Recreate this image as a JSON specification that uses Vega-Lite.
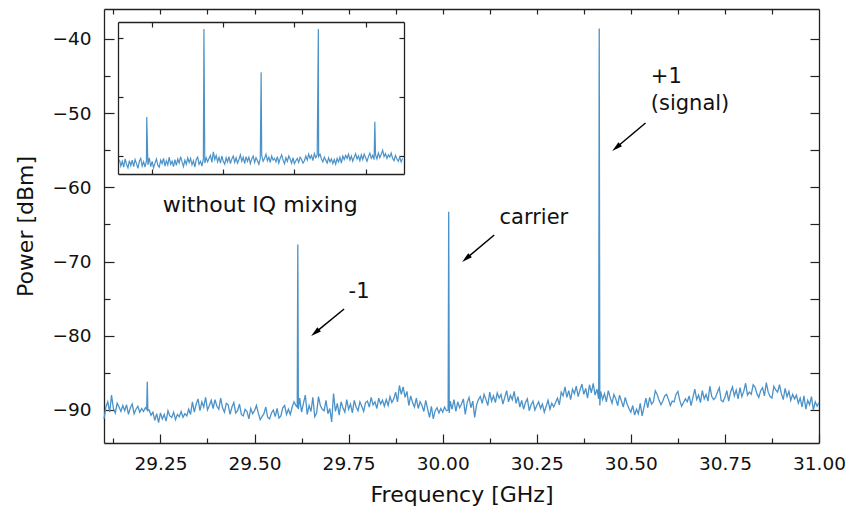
{
"$schema":"https://vega.github.io/schema/vega-lite/v6.json",
"width":715,"height":434,
"autosize":{"type":"none"},
"padding":{"left":104,"top":9,"right":38,"bottom":70},
"config":{"font":"DejaVu Sans","view":{"stroke":null},
 "axis":{"domainColor":"#222","tickColor":"#222","domainWidth":1.3,"tickWidth":1.2,"grid":false,"labelColor":"#111","titleColor":"#111","labelFont":"DejaVu Sans","titleFont":"DejaVu Sans","titleFontWeight":"normal","labelFontSize":18.5,"titleFontSize":22,"labelFlush":false}},
"datasets":{
"main":[
{"f":29.100,"p":-91.2},{"f":29.105,"p":-89.6},{"f":29.110,"p":-88.9},{"f":29.115,"p":-90.3},{"f":29.120,"p":-88.0},{"f":29.125,"p":-89.8},{"f":29.130,"p":-90.4},{"f":29.135,"p":-89.1},{"f":29.140,"p":-89.6},{"f":29.145,"p":-90.2},
{"f":29.150,"p":-89.4},{"f":29.155,"p":-90.1},{"f":29.160,"p":-89.3},{"f":29.165,"p":-90.6},{"f":29.170,"p":-89.7},{"f":29.175,"p":-89.2},{"f":29.180,"p":-90.5},{"f":29.185,"p":-89.9},{"f":29.190,"p":-89.5},{"f":29.195,"p":-90.3},
{"f":29.200,"p":-89.8},{"f":29.205,"p":-90.2},{"f":29.210,"p":-89.7},{"f":29.2135,"p":-89.9},{"f":29.215,"p":-86.2},{"f":29.2165,"p":-90.1},{"f":29.220,"p":-90.0},{"f":29.225,"p":-90.7},{"f":29.230,"p":-90.3},{"f":29.235,"p":-91.4},{"f":29.240,"p":-90.5},{"f":29.245,"p":-91.7},
{"f":29.250,"p":-90.4},{"f":29.255,"p":-91.2},{"f":29.260,"p":-90.6},{"f":29.265,"p":-91.5},{"f":29.270,"p":-90.1},{"f":29.275,"p":-90.8},{"f":29.280,"p":-91.0},{"f":29.285,"p":-90.3},{"f":29.290,"p":-91.3},{"f":29.295,"p":-90.6},
{"f":29.300,"p":-90.9},{"f":29.305,"p":-90.2},{"f":29.310,"p":-91.0},{"f":29.315,"p":-90.5},{"f":29.320,"p":-90.8},{"f":29.325,"p":-89.9},{"f":29.330,"p":-90.6},{"f":29.335,"p":-88.9},{"f":29.340,"p":-90.3},{"f":29.345,"p":-89.2},
{"f":29.350,"p":-88.5},{"f":29.355,"p":-90.1},{"f":29.360,"p":-88.9},{"f":29.365,"p":-89.6},{"f":29.370,"p":-88.3},{"f":29.375,"p":-90.0},{"f":29.380,"p":-89.4},{"f":29.385,"p":-88.7},{"f":29.390,"p":-89.8},{"f":29.395,"p":-88.6},
{"f":29.400,"p":-89.5},{"f":29.405,"p":-89.9},{"f":29.410,"p":-88.4},{"f":29.415,"p":-89.7},{"f":29.420,"p":-90.3},{"f":29.425,"p":-89.1},{"f":29.430,"p":-89.3},{"f":29.435,"p":-90.6},{"f":29.440,"p":-89.6},{"f":29.445,"p":-89.0},
{"f":29.450,"p":-90.4},{"f":29.455,"p":-90.1},{"f":29.460,"p":-89.2},{"f":29.465,"p":-90.6},{"f":29.470,"p":-90.8},{"f":29.475,"p":-89.9},{"f":29.480,"p":-90.2},{"f":29.485,"p":-91.2},{"f":29.490,"p":-89.8},{"f":29.495,"p":-90.5},
{"f":29.500,"p":-90.1},{"f":29.505,"p":-89.4},{"f":29.510,"p":-90.4},{"f":29.515,"p":-91.3},{"f":29.520,"p":-90.9},{"f":29.525,"p":-90.5},{"f":29.530,"p":-89.6},{"f":29.535,"p":-91.0},{"f":29.540,"p":-91.2},{"f":29.545,"p":-90.4},
{"f":29.550,"p":-90.0},{"f":29.555,"p":-90.9},{"f":29.560,"p":-89.8},{"f":29.565,"p":-91.1},{"f":29.570,"p":-90.8},{"f":29.575,"p":-89.7},{"f":29.580,"p":-89.4},{"f":29.585,"p":-90.6},{"f":29.590,"p":-89.9},{"f":29.595,"p":-90.6},
{"f":29.600,"p":-89.6},{"f":29.605,"p":-88.9},{"f":29.610,"p":-89.4},{"f":29.6135,"p":-89.6},{"f":29.615,"p":-67.7},{"f":29.6165,"p":-89.9},{"f":29.620,"p":-88.4},{"f":29.625,"p":-90.3},{"f":29.630,"p":-89.1},{"f":29.635,"p":-88.0},{"f":29.640,"p":-90.6},{"f":29.645,"p":-89.4},
{"f":29.650,"p":-90.2},{"f":29.655,"p":-88.3},{"f":29.660,"p":-90.9},{"f":29.665,"p":-90.4},{"f":29.670,"p":-88.2},{"f":29.675,"p":-89.4},{"f":29.680,"p":-89.9},{"f":29.685,"p":-90.1},{"f":29.690,"p":-88.7},{"f":29.695,"p":-90.5},
{"f":29.700,"p":-89.8},{"f":29.705,"p":-91.6},{"f":29.710,"p":-87.8},{"f":29.715,"p":-90.2},{"f":29.720,"p":-89.1},{"f":29.725,"p":-90.7},{"f":29.730,"p":-88.9},{"f":29.735,"p":-89.7},{"f":29.740,"p":-90.3},{"f":29.745,"p":-88.6},
{"f":29.750,"p":-89.9},{"f":29.755,"p":-89.2},{"f":29.760,"p":-90.4},{"f":29.765,"p":-88.7},{"f":29.770,"p":-89.6},{"f":29.775,"p":-90.1},{"f":29.780,"p":-88.9},{"f":29.785,"p":-89.5},{"f":29.790,"p":-90.2},{"f":29.795,"p":-89.0},
{"f":29.800,"p":-88.8},{"f":29.805,"p":-89.6},{"f":29.810,"p":-88.3},{"f":29.815,"p":-89.3},{"f":29.820,"p":-88.9},{"f":29.825,"p":-89.8},{"f":29.830,"p":-88.4},{"f":29.835,"p":-89.2},{"f":29.840,"p":-88.7},{"f":29.845,"p":-89.5},
{"f":29.850,"p":-88.6},{"f":29.855,"p":-89.4},{"f":29.860,"p":-88.2},{"f":29.865,"p":-89.0},{"f":29.870,"p":-88.5},{"f":29.875,"p":-87.6},{"f":29.880,"p":-88.9},{"f":29.885,"p":-86.7},{"f":29.890,"p":-87.9},{"f":29.895,"p":-86.9},
{"f":29.900,"p":-88.3},{"f":29.905,"p":-87.5},{"f":29.910,"p":-89.4},{"f":29.915,"p":-88.1},{"f":29.920,"p":-89.0},{"f":29.925,"p":-89.6},{"f":29.930,"p":-88.4},{"f":29.935,"p":-89.8},{"f":29.940,"p":-88.9},{"f":29.945,"p":-89.4},
{"f":29.950,"p":-90.2},{"f":29.955,"p":-88.7},{"f":29.960,"p":-89.9},{"f":29.965,"p":-91.0},{"f":29.970,"p":-89.5},{"f":29.975,"p":-91.2},{"f":29.980,"p":-90.1},{"f":29.985,"p":-89.7},{"f":29.990,"p":-90.4},{"f":29.995,"p":-89.8},
{"f":30.000,"p":-90.3},{"f":30.005,"p":-89.6},{"f":30.010,"p":-90.1},{"f":30.0145,"p":-90.0},{"f":30.016,"p":-63.3},{"f":30.0175,"p":-90.4},{"f":30.020,"p":-88.8},{"f":30.025,"p":-89.9},{"f":30.030,"p":-88.6},{"f":30.035,"p":-90.2},{"f":30.040,"p":-88.9},{"f":30.045,"p":-89.7},
{"f":30.050,"p":-89.2},{"f":30.055,"p":-88.5},{"f":30.060,"p":-90.6},{"f":30.065,"p":-89.0},{"f":30.070,"p":-88.3},{"f":30.075,"p":-89.7},{"f":30.080,"p":-88.8},{"f":30.085,"p":-91.0},{"f":30.090,"p":-89.3},{"f":30.095,"p":-88.6},
{"f":30.100,"p":-88.2},{"f":30.105,"p":-89.1},{"f":30.110,"p":-87.9},{"f":30.115,"p":-88.6},{"f":30.120,"p":-89.4},{"f":30.125,"p":-87.6},{"f":30.130,"p":-88.8},{"f":30.135,"p":-88.1},{"f":30.140,"p":-89.0},{"f":30.145,"p":-87.7},
{"f":30.150,"p":-88.4},{"f":30.155,"p":-87.9},{"f":30.160,"p":-89.2},{"f":30.165,"p":-88.3},{"f":30.170,"p":-87.4},{"f":30.175,"p":-88.9},{"f":30.180,"p":-88.0},{"f":30.185,"p":-88.6},{"f":30.190,"p":-87.5},{"f":30.195,"p":-89.1},
{"f":30.200,"p":-88.2},{"f":30.205,"p":-89.6},{"f":30.210,"p":-88.7},{"f":30.215,"p":-89.9},{"f":30.220,"p":-89.0},{"f":30.225,"p":-88.5},{"f":30.230,"p":-90.1},{"f":30.235,"p":-89.3},{"f":30.240,"p":-88.8},{"f":30.245,"p":-90.0},
{"f":30.250,"p":-89.4},{"f":30.255,"p":-88.9},{"f":30.260,"p":-89.8},{"f":30.265,"p":-89.2},{"f":30.270,"p":-90.3},{"f":30.275,"p":-89.5},{"f":30.280,"p":-88.7},{"f":30.285,"p":-89.9},{"f":30.290,"p":-89.1},{"f":30.295,"p":-89.6},
{"f":30.300,"p":-89.0},{"f":30.305,"p":-88.4},{"f":30.310,"p":-89.3},{"f":30.315,"p":-87.6},{"f":30.320,"p":-88.1},{"f":30.325,"p":-86.9},{"f":30.330,"p":-88.3},{"f":30.335,"p":-87.4},{"f":30.340,"p":-88.6},{"f":30.345,"p":-87.2},
{"f":30.350,"p":-87.8},{"f":30.355,"p":-86.8},{"f":30.360,"p":-88.2},{"f":30.365,"p":-87.3},{"f":30.370,"p":-86.5},{"f":30.375,"p":-87.9},{"f":30.380,"p":-87.1},{"f":30.385,"p":-88.4},{"f":30.390,"p":-86.6},{"f":30.395,"p":-87.7},
{"f":30.400,"p":-86.4},{"f":30.405,"p":-88.0},{"f":30.410,"p":-87.2},{"f":30.4145,"p":-88.5},{"f":30.416,"p":-38.6},{"f":30.4175,"p":-89.4},{"f":30.420,"p":-87.5},{"f":30.425,"p":-88.6},{"f":30.430,"p":-87.8},{"f":30.435,"p":-88.9},{"f":30.440,"p":-87.4},{"f":30.445,"p":-88.3},
{"f":30.450,"p":-89.1},{"f":30.455,"p":-87.9},{"f":30.460,"p":-88.5},{"f":30.465,"p":-89.4},{"f":30.470,"p":-88.0},{"f":30.475,"p":-88.8},{"f":30.480,"p":-89.6},{"f":30.485,"p":-88.3},{"f":30.490,"p":-89.2},{"f":30.495,"p":-89.8},
{"f":30.500,"p":-90.3},{"f":30.505,"p":-89.4},{"f":30.510,"p":-90.7},{"f":30.515,"p":-89.9},{"f":30.520,"p":-90.5},{"f":30.525,"p":-89.1},{"f":30.530,"p":-90.8},{"f":30.535,"p":-89.6},{"f":30.540,"p":-88.4},{"f":30.545,"p":-89.7},
{"f":30.550,"p":-88.3},{"f":30.555,"p":-89.2},{"f":30.560,"p":-88.9},{"f":30.565,"p":-87.4},{"f":30.570,"p":-87.9},{"f":30.575,"p":-88.7},{"f":30.580,"p":-89.3},{"f":30.585,"p":-88.8},{"f":30.590,"p":-88.1},{"f":30.595,"p":-87.9},
{"f":30.600,"p":-88.6},{"f":30.605,"p":-89.4},{"f":30.610,"p":-88.8},{"f":30.615,"p":-88.9},{"f":30.620,"p":-87.9},{"f":30.625,"p":-87.5},{"f":30.630,"p":-88.7},{"f":30.635,"p":-89.5},{"f":30.640,"p":-89.0},{"f":30.645,"p":-88.5},
{"f":30.650,"p":-88.9},{"f":30.655,"p":-88.1},{"f":30.660,"p":-89.4},{"f":30.665,"p":-88.3},{"f":30.670,"p":-87.2},{"f":30.675,"p":-88.6},{"f":30.680,"p":-88.0},{"f":30.685,"p":-89.0},{"f":30.690,"p":-87.4},{"f":30.695,"p":-88.5},
{"f":30.700,"p":-87.9},{"f":30.705,"p":-88.8},{"f":30.710,"p":-86.8},{"f":30.715,"p":-88.2},{"f":30.720,"p":-88.6},{"f":30.725,"p":-88.3},{"f":30.730,"p":-87.6},{"f":30.735,"p":-87.0},{"f":30.740,"p":-88.7},{"f":30.745,"p":-88.9},
{"f":30.750,"p":-88.3},{"f":30.755,"p":-87.4},{"f":30.760,"p":-88.8},{"f":30.765,"p":-87.6},{"f":30.770,"p":-86.9},{"f":30.775,"p":-88.1},{"f":30.780,"p":-87.3},{"f":30.785,"p":-88.5},{"f":30.790,"p":-87.0},{"f":30.795,"p":-88.2},
{"f":30.800,"p":-87.5},{"f":30.805,"p":-86.4},{"f":30.810,"p":-88.0},{"f":30.815,"p":-87.6},{"f":30.820,"p":-87.9},{"f":30.825,"p":-86.6},{"f":30.830,"p":-86.9},{"f":30.835,"p":-87.8},{"f":30.840,"p":-88.3},{"f":30.845,"p":-87.4},
{"f":30.850,"p":-87.0},{"f":30.855,"p":-88.1},{"f":30.860,"p":-86.3},{"f":30.865,"p":-87.6},{"f":30.870,"p":-88.2},{"f":30.875,"p":-88.4},{"f":30.880,"p":-86.8},{"f":30.885,"p":-87.3},{"f":30.890,"p":-87.6},{"f":30.895,"p":-86.6},
{"f":30.900,"p":-87.8},{"f":30.905,"p":-88.6},{"f":30.910,"p":-87.1},{"f":30.915,"p":-88.2},{"f":30.920,"p":-87.5},{"f":30.925,"p":-88.7},{"f":30.930,"p":-87.9},{"f":30.935,"p":-88.5},{"f":30.940,"p":-88.0},{"f":30.945,"p":-89.1},
{"f":30.950,"p":-88.4},{"f":30.955,"p":-89.6},{"f":30.960,"p":-88.1},{"f":30.965,"p":-89.9},{"f":30.970,"p":-88.7},{"f":30.975,"p":-89.3},{"f":30.980,"p":-88.2},{"f":30.985,"p":-90.0},{"f":30.990,"p":-88.9},{"f":30.995,"p":-89.5},
{"f":31.000,"p":-89.0}
],
"inset":[
{"f":28.77,"p":-60.6},{"f":28.78,"p":-61.7},{"f":28.79,"p":-60.9},{"f":28.80,"p":-61.9},{"f":28.81,"p":-60.5},{"f":28.82,"p":-61.4},{"f":28.83,"p":-62.0},{"f":28.84,"p":-60.8},{"f":28.85,"p":-61.6},{"f":28.86,"p":-60.7},
{"f":28.87,"p":-61.8},{"f":28.88,"p":-60.6},{"f":28.89,"p":-61.3},{"f":28.90,"p":-62.1},{"f":28.91,"p":-60.9},{"f":28.92,"p":-60.4},{"f":28.93,"p":-61.7},{"f":28.94,"p":-61.0},{"f":28.95,"p":-61.9},{"f":28.96,"p":-60.8},
{"f":28.962,"p":-53.4},
{"f":28.97,"p":-61.5},{"f":28.98,"p":-60.3},{"f":28.99,"p":-61.8},{"f":29.00,"p":-60.9},{"f":29.01,"p":-62.0},{"f":29.02,"p":-61.2},{"f":29.03,"p":-60.5},{"f":29.04,"p":-61.6},{"f":29.05,"p":-61.9},{"f":29.06,"p":-60.7},
{"f":29.07,"p":-61.3},{"f":29.08,"p":-60.4},{"f":29.09,"p":-61.7},{"f":29.10,"p":-60.8},{"f":29.11,"p":-61.5},{"f":29.12,"p":-60.2},{"f":29.13,"p":-61.4},{"f":29.14,"p":-60.9},{"f":29.15,"p":-61.8},{"f":29.16,"p":-60.6},
{"f":29.17,"p":-61.6},{"f":29.18,"p":-60.5},{"f":29.19,"p":-61.2},{"f":29.20,"p":-60.1},{"f":29.21,"p":-61.0},{"f":29.22,"p":-61.8},{"f":29.23,"p":-60.7},{"f":29.24,"p":-61.4},{"f":29.25,"p":-60.3},{"f":29.26,"p":-61.1},
{"f":29.27,"p":-60.4},{"f":29.28,"p":-61.5},{"f":29.29,"p":-60.8},{"f":29.30,"p":-61.9},{"f":29.31,"p":-60.6},{"f":29.32,"p":-60.2},{"f":29.33,"p":-61.4},{"f":29.34,"p":-60.9},{"f":29.35,"p":-61.7},{"f":29.36,"p":-60.5},
{"f":29.364,"p":-38.5},
{"f":29.37,"p":-61.2},{"f":29.38,"p":-60.3},{"f":29.39,"p":-61.0},{"f":29.40,"p":-60.4},{"f":29.41,"p":-59.9},{"f":29.42,"p":-61.1},{"f":29.43,"p":-59.3},{"f":29.44,"p":-60.6},{"f":29.45,"p":-59.9},{"f":29.46,"p":-61.0},
{"f":29.47,"p":-60.2},{"f":29.48,"p":-61.2},{"f":29.49,"p":-60.0},{"f":29.50,"p":-60.9},{"f":29.51,"p":-61.4},{"f":29.52,"p":-60.3},{"f":29.53,"p":-61.0},{"f":29.54,"p":-60.1},{"f":29.55,"p":-61.3},{"f":29.56,"p":-60.5},
{"f":29.57,"p":-60.0},{"f":29.58,"p":-61.1},{"f":29.59,"p":-60.3},{"f":29.60,"p":-61.2},{"f":29.61,"p":-60.6},{"f":29.62,"p":-59.8},{"f":29.63,"p":-60.9},{"f":29.64,"p":-60.2},{"f":29.65,"p":-61.3},{"f":29.66,"p":-60.1},
{"f":29.67,"p":-60.9},{"f":29.68,"p":-60.2},{"f":29.69,"p":-61.3},{"f":29.70,"p":-60.5},{"f":29.71,"p":-60.0},{"f":29.72,"p":-61.1},{"f":29.73,"p":-60.3},{"f":29.74,"p":-60.8},{"f":29.75,"p":-61.4},{"f":29.76,"p":-60.4},
{"f":29.766,"p":-45.8},
{"f":29.77,"p":-59.9},{"f":29.78,"p":-60.9},{"f":29.79,"p":-60.4},{"f":29.80,"p":-59.7},{"f":29.81,"p":-60.8},{"f":29.82,"p":-60.2},{"f":29.83,"p":-61.1},{"f":29.84,"p":-60.0},{"f":29.85,"p":-60.7},{"f":29.86,"p":-60.4},
{"f":29.87,"p":-61.0},{"f":29.88,"p":-60.1},{"f":29.89,"p":-61.2},{"f":29.90,"p":-60.4},{"f":29.91,"p":-59.8},{"f":29.92,"p":-60.7},{"f":29.93,"p":-61.3},{"f":29.94,"p":-60.3},{"f":29.95,"p":-60.9},{"f":29.96,"p":-60.0},
{"f":29.97,"p":-60.5},{"f":29.98,"p":-61.2},{"f":29.99,"p":-60.3},{"f":30.00,"p":-61.3},{"f":30.01,"p":-60.8},{"f":30.02,"p":-60.4},{"f":30.03,"p":-61.1},{"f":30.04,"p":-60.2},{"f":30.05,"p":-60.6},{"f":30.06,"p":-61.2},
{"f":30.07,"p":-60.8},{"f":30.08,"p":-60.0},{"f":30.09,"p":-60.7},{"f":30.10,"p":-59.7},{"f":30.11,"p":-60.4},{"f":30.12,"p":-59.9},{"f":30.13,"p":-60.8},{"f":30.14,"p":-59.6},{"f":30.15,"p":-60.3},{"f":30.16,"p":-59.8},
{"f":30.168,"p":-38.5},
{"f":30.17,"p":-60.1},{"f":30.18,"p":-59.7},{"f":30.19,"p":-60.5},{"f":30.20,"p":-61.0},{"f":30.21,"p":-60.2},{"f":30.22,"p":-60.7},{"f":30.23,"p":-61.2},{"f":30.24,"p":-60.3},{"f":30.25,"p":-61.0},{"f":30.26,"p":-60.5},
{"f":30.27,"p":-61.3},{"f":30.28,"p":-60.6},{"f":30.29,"p":-61.4},{"f":30.30,"p":-60.4},{"f":30.31,"p":-61.0},{"f":30.32,"p":-60.2},{"f":30.33,"p":-61.2},{"f":30.34,"p":-60.0},{"f":30.35,"p":-60.6},{"f":30.36,"p":-59.9},
{"f":30.37,"p":-60.4},{"f":30.38,"p":-59.7},{"f":30.39,"p":-60.7},{"f":30.40,"p":-60.0},{"f":30.41,"p":-60.9},{"f":30.42,"p":-60.2},{"f":30.43,"p":-59.6},{"f":30.44,"p":-60.5},{"f":30.45,"p":-60.0},{"f":30.46,"p":-60.8},
{"f":30.47,"p":-59.8},{"f":30.48,"p":-60.6},{"f":30.49,"p":-59.7},{"f":30.50,"p":-60.3},{"f":30.51,"p":-60.9},{"f":30.52,"p":-60.1},{"f":30.53,"p":-59.5},{"f":30.54,"p":-60.4},{"f":30.55,"p":-59.9},{"f":30.56,"p":-60.6},
{"f":30.565,"p":-54.2},
{"f":30.57,"p":-59.8},{"f":30.58,"p":-60.5},{"f":30.59,"p":-59.5},{"f":30.60,"p":-60.3},{"f":30.61,"p":-59.7},{"f":30.62,"p":-59.0},{"f":30.63,"p":-60.1},{"f":30.64,"p":-59.6},{"f":30.65,"p":-60.4},{"f":30.66,"p":-59.8},
{"f":30.67,"p":-60.2},{"f":30.68,"p":-59.5},{"f":30.69,"p":-60.4},{"f":30.70,"p":-60.8},{"f":30.71,"p":-59.9},{"f":30.72,"p":-60.5},{"f":30.73,"p":-60.9},{"f":30.74,"p":-60.2},{"f":30.75,"p":-61.0},{"f":30.76,"p":-60.4}
],
"arrows":[
{"f":30.539,"p":-51.32,"hf":30.463,"hp":-54.56},
{"f":30.137,"p":-66.42,"hf":30.064,"hp":-69.52},
{"f":29.738,"p":-76.39,"hf":29.663,"hp":-79.5}
],
"labels":[
{"f":30.553,"p":-45.12,"t":"+1"},
{"f":30.553,"p":-48.76,"t":"(signal)"},
{"f":30.151,"p":-64.1,"t":"carrier"},
{"f":29.750,"p":-74.16,"t":"-1"}
],
"caption":[{"f":29.515,"p":-62.4,"t":"without IQ mixing"}],
"dummy":[{"f":30.0,"p":-60.0}]
},
"layer":[
{
"layer":[
{"data":{"name":"main"},"mark":{"type":"line","color":"#4b92c8","strokeWidth":1.3},
 "encoding":{
  "x":{"field":"f","type":"quantitative","scale":{"domain":[29.1,31.0],"nice":false,"zero":false},
   "axis":{"orient":"bottom","values":[29.25,29.5,29.75,30,30.25,30.5,30.75,31],"format":".2f","ticks":false,"tickSize":0,"labelPadding":11,"title":"Frequency [GHz]","titlePadding":12}},
  "y":{"field":"p","type":"quantitative","scale":{"domain":[-94.45,-35.96],"nice":false,"zero":false},
   "axis":{"orient":"left","values":[-90,-80,-70,-60,-50,-40],"ticks":false,"tickSize":0,"labelPadding":13,"title":"Power [dBm]","titlePadding":14}}}},
{"data":{"name":"dummy"},"mark":{"type":"point","opacity":0},
 "encoding":{
  "x":{"field":"f","type":"quantitative","scale":{"domain":[29.1,31.0],"nice":false,"zero":false},
   "axis":{"orient":"top","offset":-434,"values":[29.25,29.5,29.75,30,30.25,30.5,30.75,31],"tickSize":9,"labels":false,"domain":false,"title":null}},
  "y":{"field":"p","type":"quantitative","scale":{"domain":[-94.45,-35.96],"nice":false,"zero":false},
   "axis":{"orient":"right","offset":-715,"values":[-90,-80,-70,-60,-50,-40],"tickSize":10,"labels":false,"domain":false,"title":null}}}},
{"data":{"name":"dummy"},"mark":{"type":"point","opacity":0},
 "encoding":{
  "x":{"field":"f","type":"quantitative","scale":{"domain":[29.1,31.0],"nice":false,"zero":false},
   "axis":{"orient":"top","offset":-434,"values":[29.125,29.375,29.625,29.875,30.125,30.375,30.625,30.875],"tickSize":5,"labels":false,"domain":false,"title":null}},
  "y":{"field":"p","type":"quantitative","scale":{"domain":[-94.45,-35.96],"nice":false,"zero":false},
   "axis":{"orient":"right","offset":-715,"values":[-85,-75,-65,-55,-45],"tickSize":6,"labels":false,"domain":false,"title":null}}}},
{"data":{"name":"dummy"},"mark":{"type":"point","opacity":0},
 "encoding":{
  "x":{"field":"f","type":"quantitative","scale":{"domain":[29.1,31.0],"nice":false,"zero":false},
   "axis":{"orient":"bottom","offset":-434,"values":[29.125,29.25,29.375,29.5,29.625,29.75,29.875,30,30.125,30.25,30.375,30.5,30.625,30.75,30.875],"tickSize":5,"labels":false,"domain":true,"title":null}},
  "y":{"field":"p","type":"quantitative","scale":{"domain":[-94.45,-35.96],"nice":false,"zero":false},
   "axis":{"orient":"left","offset":-715,"values":[-90,-85,-80,-75,-70,-65,-60,-55,-50,-45,-40],"tickSize":9,"labels":false,"domain":true,"title":null}}}},
{"data":{"name":"arrows"},"mark":{"type":"rule","color":"#000","strokeWidth":1.5},
 "encoding":{
  "x":{"field":"f","type":"quantitative","scale":{"domain":[29.1,31.0],"nice":false,"zero":false},"axis":null},
  "y":{"field":"p","type":"quantitative","scale":{"domain":[-94.45,-35.96],"nice":false,"zero":false},"axis":null},
  "x2":{"field":"hf"},"y2":{"field":"hp"}}},
{"data":{"name":"arrows"},"mark":{"type":"point","shape":"M0,-1L0.45,0.7L-0.45,0.7Z","filled":true,"color":"#000","opacity":1,"size":150,"angle":230},
 "encoding":{
  "x":{"field":"hf","type":"quantitative","scale":{"domain":[29.1,31.0],"nice":false,"zero":false},"axis":null},
  "y":{"field":"hp","type":"quantitative","scale":{"domain":[-94.45,-35.96],"nice":false,"zero":false},"axis":null}}},
{"data":{"name":"labels"},"mark":{"type":"text","align":"left","baseline":"middle","fontSize":21,"color":"#111","font":"DejaVu Sans"},
 "encoding":{
  "x":{"field":"f","type":"quantitative","scale":{"domain":[29.1,31.0],"nice":false,"zero":false},"axis":null},
  "y":{"field":"p","type":"quantitative","scale":{"domain":[-94.45,-35.96],"nice":false,"zero":false},"axis":null},
  "text":{"field":"t"}}},
{"data":{"name":"caption"},"mark":{"type":"text","align":"center","baseline":"middle","fontSize":22,"color":"#111","font":"DejaVu Sans"},
 "encoding":{
  "x":{"field":"f","type":"quantitative","scale":{"domain":[29.1,31.0],"nice":false,"zero":false},"axis":null},
  "y":{"field":"p","type":"quantitative","scale":{"domain":[-94.45,-35.96],"nice":false,"zero":false},"axis":null},
  "text":{"field":"t"}}}
],
"resolve":{"axis":{"x":"independent","y":"independent"}}
},
{
"layer":[
{"data":{"name":"inset"},"mark":{"type":"line","color":"#4b92c8","strokeWidth":1.2},
 "encoding":{
  "x":{"field":"f","type":"quantitative","scale":{"domain":[28.76,30.77],"range":[14,300],"nice":false,"zero":false},
   "axis":{"orient":"top","offset":-165,"values":[29,29.5,30,30.5],"tickSize":5,"labels":false,"domain":true,"title":null}},
  "y":{"field":"p","type":"quantitative","scale":{"domain":[-63.05,-37.3],"range":[165,13],"nice":false,"zero":false},
   "axis":{"orient":"right","offset":-701,"values":[-60,-50,-40],"tickSize":5,"labels":false,"domain":true,"title":null}}}},
{"data":{"name":"dummy"},"mark":{"type":"point","opacity":0},
 "encoding":{
  "x":{"field":"f","type":"quantitative","scale":{"domain":[28.76,30.77],"range":[14,300],"nice":false,"zero":false},
   "axis":{"orient":"bottom","offset":-421,"values":[29,29.5,30,30.5],"tickSize":5,"labels":false,"domain":true,"title":null}},
  "y":{"field":"p","type":"quantitative","scale":{"domain":[-63.05,-37.3],"range":[165,13],"nice":false,"zero":false},
   "axis":{"orient":"left","offset":-300,"values":[-60,-50,-40],"tickSize":5,"labels":false,"domain":true,"title":null}}}}
],
"resolve":{"axis":{"x":"independent","y":"independent"}}
}
],
"resolve":{"scale":{"x":"independent","y":"independent"},"axis":{"x":"independent","y":"independent"}}
}
